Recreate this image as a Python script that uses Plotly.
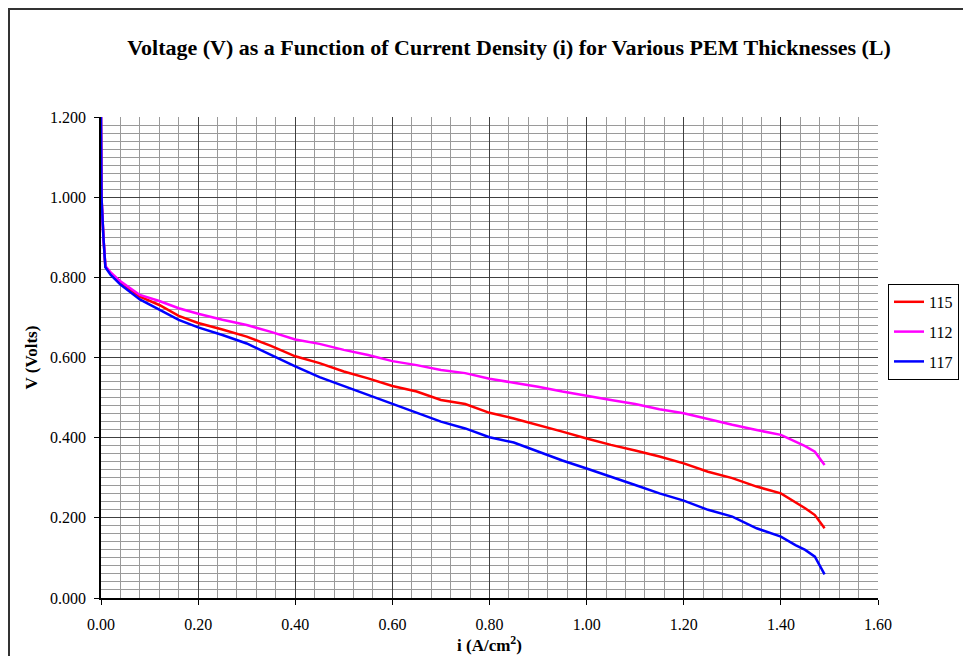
import plotly.graph_objects as go

current_density = [0.000, 0.001, 0.005, 0.009, 0.02, 0.04, 0.08, 0.12, 0.16, 0.20,
                   0.25, 0.30, 0.35, 0.40, 0.45, 0.50, 0.55, 0.60, 0.65, 0.70,
                   0.75, 0.80, 0.85, 0.90, 0.95, 1.00, 1.05, 1.10, 1.15, 1.20,
                   1.25, 1.30, 1.35, 1.40, 1.43, 1.45, 1.47, 1.48, 1.49]

v_115 = [1.200, 1.000, 0.900, 0.827, 0.810, 0.788, 0.752, 0.731, 0.704, 0.686,
         0.670, 0.652, 0.629, 0.603, 0.586, 0.565, 0.548, 0.529, 0.515, 0.494,
         0.484, 0.462, 0.448, 0.432, 0.415, 0.398, 0.382, 0.368, 0.353, 0.336,
         0.315, 0.299, 0.278, 0.261, 0.240, 0.224, 0.207, 0.190, 0.174]

v_112 = [1.200, 1.000, 0.900, 0.828, 0.812, 0.790, 0.756, 0.741, 0.723, 0.709,
         0.694, 0.681, 0.664, 0.645, 0.634, 0.619, 0.606, 0.591, 0.581, 0.569,
         0.561, 0.547, 0.537, 0.527, 0.515, 0.504, 0.494, 0.484, 0.471, 0.461,
         0.446, 0.432, 0.419, 0.407, 0.390, 0.379, 0.365, 0.349, 0.332]

v_117 = [1.200, 1.000, 0.900, 0.825, 0.806, 0.782, 0.745, 0.720, 0.694, 0.675,
         0.656, 0.635, 0.606, 0.578, 0.551, 0.529, 0.506, 0.484, 0.461, 0.440,
         0.423, 0.401, 0.388, 0.365, 0.343, 0.323, 0.303, 0.282, 0.261, 0.243,
         0.220, 0.203, 0.174, 0.153, 0.132, 0.120, 0.103, 0.082, 0.059]

series = [("115", v_115, "#FF0000"), ("112", v_112, "#FF00FF"), ("117", v_117, "#0000FF")]

x_minor = [round(k * 0.04, 2) for k in range(41)]
y_minor = [round(k * 0.02, 2) for k in range(61)]

FONT = "Liberation Serif, Times New Roman, serif"

fig = go.Figure()
for name, vals, color in series:
    fig.add_trace(go.Scatter(x=current_density, y=vals, mode="lines", name=name,
                             legendgroup=name,
                             line=dict(color=color, width=2.5)))

fig.update_layout(
    width=971, height=656,
    margin=dict(l=93, r=101, t=109, b=66, autoexpand=False),
    paper_bgcolor="white", plot_bgcolor="white",
    font=dict(family=FONT, size=16, color="black"),
    title=dict(text="<b>Voltage (V) as a Function of Current Density (i) for Various PEM Thicknesses (L)</b>",
               x=0.516, xanchor="center", y=0.94, yanchor="middle",
               font=dict(family=FONT, size=22, color="black")),
    showlegend=True,
    legend=dict(x=1.0129, xanchor="left", y=0.653, yanchor="top",
                bordercolor="black", borderwidth=1, bgcolor="white",
                font=dict(family=FONT, size=16), tracegroupgap=6,
                itemwidth=30, entrywidth=140),
    xaxis=dict(range=[0, 1.6], dtick=0.2, tick0=0, tickformat=".2f",
               automargin=False, ticklabelstandoff=6,
               showgrid=True, gridcolor="#404040", gridwidth=1,
               minor=dict(tickmode="array", tickvals=x_minor, showgrid=True,
                          gridcolor="#9a9a9a", gridwidth=1),
               showline=True, linecolor="black", linewidth=1.5,
               ticks="outside", ticklen=5, tickcolor="black",
               zeroline=False,
               title=dict(text="<b>i (A/cm<sup>2</sup>)</b>", standoff=2,
                          font=dict(family=FONT, size=17))),
    yaxis=dict(range=[0, 1.2], dtick=0.2, tick0=0, tickformat=".3f",
               automargin=False, ticklabelstandoff=5,
               showgrid=True, gridcolor="#404040", gridwidth=1,
               minor=dict(tickmode="array", tickvals=y_minor, showgrid=True,
                          gridcolor="#9a9a9a", gridwidth=1),
               showline=True, linecolor="black", linewidth=1.5,
               ticks="outside", ticklen=5, tickcolor="black",
               zeroline=False,
               title=dict(text="<b>V (Volts)</b>", standoff=8,
                          font=dict(family=FONT, size=17))),
)

# outer chart border
fig.add_shape(type="rect", xref="paper", yref="paper",
              x0=-0.1184, x1=1.3, y0=-0.3, y1=1.2245,
              line=dict(color="#333333", width=2), fillcolor="rgba(0,0,0,0)", layer="below")

fig.write_html("out.html")
